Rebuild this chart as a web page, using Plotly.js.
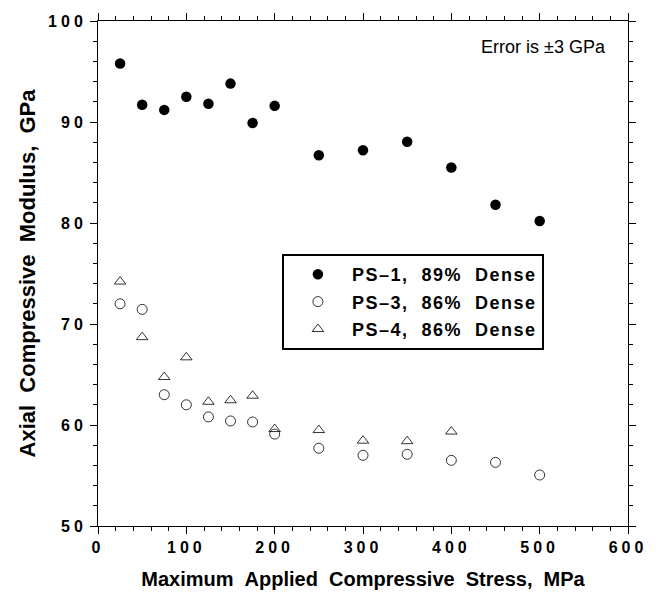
<!DOCTYPE html>
<html>
<head>
<meta charset="utf-8">
<script src="https://cdn.plot.ly/plotly-3.0.1.min.js"></script>
<style>
html,body{margin:0;padding:0;background:#fff;}
#chart{width:659px;height:594px;}
.xtick text, .ytick text {letter-spacing:4px;}
.legendtext {letter-spacing:1.5px;}
</style>
</head>
<body>
<div id="chart"></div>
<script>
const stress = [25, 50, 75, 100, 125, 150, 175, 200, 250, 300, 350, 400, 450, 500];
const ps1 = [95.8, 91.7, 91.2, 92.5, 91.8, 93.8, 89.9, 91.6, 86.7, 87.2, 88.05, 85.5, 81.8, 80.2];
const ps3 = [72.0, 71.45, 63.0, 62.0, 60.8, 60.4, 60.3, 59.1, 57.7, 57.0, 57.1, 56.5, 56.3, 55.05];
const stress4 = [25, 50, 75, 100, 125, 150, 175, 200, 250, 300, 350, 400];
const ps4 = [74.2, 68.7, 64.75, 66.7, 62.3, 62.45, 62.9, 59.6, 59.5, 58.45, 58.4, 59.35];
const names = ['PS\u20131,\u00a0\u00a089%\u00a0\u00a0Dense', 'PS\u20133,\u00a0\u00a086%\u00a0\u00a0Dense', 'PS\u20134,\u00a0\u00a086%\u00a0\u00a0Dense'];
const xTitle = 'Maximum\u00a0\u00a0Applied\u00a0\u00a0Compressive\u00a0\u00a0Stress,\u00a0\u00a0MPa\u00a0\u00a0\u00a0';
const yTitle = '\u00a0\u00a0Axial\u00a0\u00a0Compressive\u00a0\u00a0Modulus,\u00a0\u00a0GPa';
const note = 'Error is \u00b13 GPa';

const fam = 'Liberation Sans, Arial, Helvetica, sans-serif';
const traces = [
  {x: stress, y: ps1, name: names[0], legendgroup: 'a', type: 'scatter', mode: 'markers',
   marker: {symbol: 'circle', size: 10.5, color: '#000'}},
  {x: stress, y: ps3, name: names[1], legendgroup: 'b', type: 'scatter', mode: 'markers',
   marker: {symbol: 'circle-open', size: 10, color: '#000', line: {width: 0.8, color: '#000'}}},
  {x: stress4, y: ps4, name: names[2], legendgroup: 'c', type: 'scatter', mode: 'markers',
   marker: {symbol: 'triangle-up-open', size: 10, color: '#000', line: {width: 0.8, color: '#000'}}}
];
const axisCommon = {
  showline: true, linecolor: '#000', linewidth: 1, mirror: 'ticks',
  ticks: 'outside', ticklen: 7, tickwidth: 1, tickcolor: '#000',
  showgrid: false, zeroline: false,
  tickfont: {family: fam, size: 16, color: '#000', weight: 'bold'}
};
const layout = {
  width: 659, height: 594,
  margin: {l: 98, r: 31, t: 21, b: 68},
  paper_bgcolor: '#fff', plot_bgcolor: '#fff',
  showlegend: true,
  xaxis: Object.assign({}, axisCommon, {
    range: [0, 600], dtick: 100, tick0: 0,
    minor: {dtick: 20, ticks: 'outside', ticklen: 4, tickcolor: '#000', showgrid: false},
    title: {text: xTitle, standoff: 16, font: {family: fam, size: 20, color: '#000', weight: 'bold'}}
  }),
  yaxis: Object.assign({}, axisCommon, {
    range: [50, 100], dtick: 10, tick0: 50,
    minor: {dtick: 2, ticks: 'outside', ticklen: 4, tickcolor: '#000', showgrid: false},
    title: {text: yTitle, standoff: 6, font: {family: fam, size: 22, color: '#000', weight: 'bold'}}
  }),
  legend: {
    x: 0.347, y: 0.5386, xanchor: 'left', yanchor: 'top',
    bgcolor: '#fff', bordercolor: '#000', borderwidth: 2,
    tracegroupgap: 1, itemwidth: 58,
    font: {family: fam, size: 18, color: '#000', weight: 'bold'}
  },
  annotations: [{
    x: 503.8, y: 97.4, xref: 'x', yref: 'y', text: note, showarrow: false,
    font: {family: fam, size: 18, color: '#000'}
  }]
};
Plotly.newPlot('chart', traces, layout, {staticPlot: true});
</script>
</body>
</html>
